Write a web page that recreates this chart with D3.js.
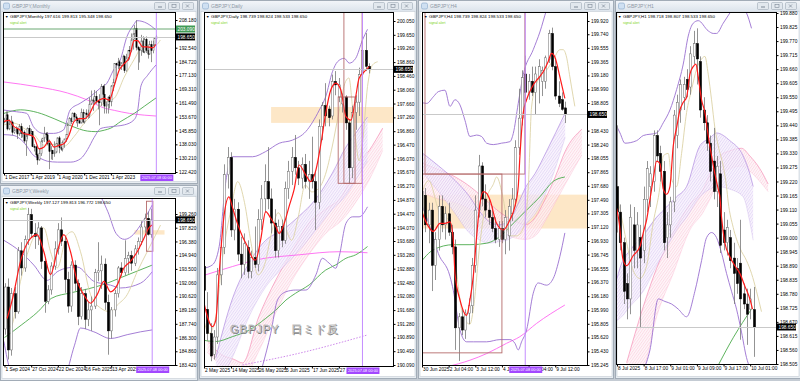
<!DOCTYPE html>
<html>
<head>
<meta charset="utf-8">
<script src="https://cdnjs.cloudflare.com/ajax/libs/d3/7.8.5/d3.min.js"></script>
<style>
  body { margin: 0; background: #c4cbd3; }
  svg { display: block; }
  text { font-family: "Liberation Sans", Arial, sans-serif; }
</style>
</head>
<body>
<svg id="chart" width="800" height="381"></svg>
<script>
// shared values
var eventLabel = "2025.07.08 00:00";
var lastPrice = 198.65;
var zoneTop = 197.56, zoneBottom = 197.1;

// ---------------- Monthly
var monthlyHeader = "GBPJPY,Monthly  197.616 199.813 195.348 198.650";
var monthlyCandles = [
  [150.6,153.0,149.9,152.2],[152.2,156.6,151.6,154.7],[154.7,156.6,145.9,146.7],[146.7,152.1,146.0,149.2],
  [149.2,154.1,149.0,150.6],[150.6,151.4,143.2,144.8],[144.8,147.3,144.0,146.0],[146.0,148.2,144.6,146.7],
  [146.7,147.6,141.0,143.9],[143.9,149.5,142.8,148.1],[148.1,149.9,141.6,144.0],[144.0,147.0,141.9,144.9],
  [144.9,145.9,138.8,139.9],[139.9,144.0,131.5,142.8],[142.8,147.6,140.9,147.0],[147.0,148.9,143.0,143.9],
  [143.9,146.6,143.7,145.2],[145.2,145.4,136.5,136.7],[136.7,138.1,134.0,136.6],[136.6,137.3,131.0,132.1],
  [132.1,132.8,126.5,129.2],[129.2,135.8,128.8,132.9],[132.9,140.9,131.5,139.8],[139.8,141.7,138.9,141.5],
  [141.5,147.9,139.3,144.0],[144.0,144.9,140.5,143.4],[143.4,145.0,137.6,138.6],[138.6,140.7,124.0,134.0],
  [134.0,137.0,129.5,134.5],[134.5,134.9,129.2,132.7],[132.7,139.7,131.0,133.6],[133.6,138.8,133.0,138.6],
  [138.6,142.0,136.4,141.7],[141.7,142.7,133.0,136.2],[136.2,137.6,134.4,135.3],[135.3,140.2,134.0,139.2],
  [139.2,141.1,136.1,141.1],[141.1,143.8,139.4,143.6],[143.6,150.3,143.4,148.6],[148.6,153.4,148.4,152.6],
  [152.6,153.5,149.4,151.0],[151.0,156.0,150.7,155.6],[155.6,156.1,151.6,153.5],[153.5,155.1,149.9,152.7],
  [152.7,152.9,147.9,151.3],[151.3,153.1,149.9,150.0],[150.0,158.2,149.9,155.9],[155.9,157.8,150.2,150.6],
  [150.6,155.9,149.7,155.7],[155.7,157.8,152.4,154.8],[154.8,157.6,152.5,154.5],[154.5,164.5,152.9,160.7],
  [160.7,168.4,160.2,163.1],[163.1,164.4,156.9,162.4],[162.4,168.7,160.6,165.0],[165.0,168.1,160.9,162.3],
  [162.3,163.0,157.7,162.0],[162.0,166.3,148.8,161.6],[161.6,172.1,159.7,170.6],[170.6,171.4,160.6,166.2],
  [166.2,172.1,155.4,159.6],[159.6,162.1,155.4,160.3],[160.3,165.0,155.4,164.7],[164.7,165.9,158.3,162.0],
  [162.0,171.5,159.5,171.0],[171.0,175.0,168.1,172.8],[172.8,183.8,172.1,183.5],[183.5,184.0,176.3,182.8],
  [182.8,186.8,180.4,184.6],[184.6,185.7,180.5,182.3],[182.3,184.4,180.0,183.9],[183.9,188.6,182.0,187.5],
  [187.5,188.3,178.3,179.6],[179.6,189.1,179.0,186.8],[186.8,191.3,185.0,191.1],[191.1,193.5,185.8,190.9],
  [190.9,200.6,190.0,197.0],[197.0,200.6,191.5,200.4],[200.4,205.3,197.5,203.4],[203.4,208.1,191.0,192.7],
  [192.7,193.6,180.0,191.6],[191.6,192.6,184.2,191.1],[191.1,199.8,188.0,196.4],[196.4,199.0,189.6,190.1],
  [190.1,198.2,189.4,197.2],[197.2,198.9,189.6,191.0],[191.0,193.2,186.4,188.9],[188.9,196.4,188.5,194.3],
  [194.3,196.5,184.4,190.9],[190.9,196.5,189.4,194.0],[194.0,198.0,192.8,197.616],[197.616,199.813,195.348,198.65]
];
var monthlyPriceTicks = [208.18,192.54,184.72,177.13,169.31,161.49,153.67,145.85,138.03,130.21,122.42];
var monthlyDateTicks = [0,16,32,48,64];
var monthlyDateLabels = ["1 Dec 2017","1 Apr 2019","1 Aug 2020","1 Dec 2021","1 Apr 2023"];
var monthlyRed = [[0,151],[3,151.5],[6,148],[9,146.5],[12,144],[15,143.5],[18,142],[21,135.5],[24,136.5],[27,140],[30,136.5],[33,137.5],[36,138.5],[39,143.5],[42,151],[45,152.5],[48,152.5],[51,155],[54,160.5],[57,163],[60,164],[63,163],[66,171],[69,180],[72,183.5],[75,187],[78,196.5],[80,196.5],[83,193],[86,193],[89,192.5],[91,194.5]];
var monthlyTan = [[0,149],[6,150],[12,147],[18,143.5],[24,137.5],[30,138],[36,137],[42,142.5],[48,150],[54,156],[60,161.5],[66,164],[72,176],[78,186],[84,194.5],[88,193.5],[91,194],[93.6,196.9]];
var monthlyUpper = [[-0.4,157.4],[7.6,156.4],[13.6,155.5],[17.6,148],[23.6,144.2],[29.6,144.2],[35.6,146.1],[39.6,157.4],[45.6,161.2],[51.6,164.9],[57.6,169.7],[61.6,172.5],[65.6,180],[69.6,185.6],[73.6,198.8],[77.6,205.4],[79.6,207.8],[85.6,206.3],[90.6,202.9]];
var monthlyLower = [[0,143.5],[6,143],[12,139],[18,131.5],[22,130],[26,128.5],[32,128],[40,128],[46,130],[50,135],[54,142],[58,147],[64,148],[72,149],[78,152],[80,157],[82,171],[86,177],[91,182.8]];
var monthlyGreen = [[0,155.5],[10,157.5],[20,156],[30,152.5],[40,148.5],[50,145.5],[55,145.2],[60,146],[64,147.2],[70,151],[78,155.5],[84,159.5],[91,164.2]];
var monthlyMagenta = [[0,173.2],[20,170.5],[38,167],[50,163],[60,158.5],[66,157.2],[75,155.5],[84,154.5],[91,154]];
var monthlyLevel = 203.1, monthlyLevelLabel = "203.090";

// ---------------- Weekly
var weeklyHeader = "GBPJPY,Weekly  197.127 199.813 196.772 198.650";
var weeklyCandles = [
  [187.2,192.0,186.6,191.6],[191.6,192.5,184.0,185.0],[185.0,191.5,184.4,190.9],[190.9,191.6,188.3,189.0],
  [189.0,195.8,188.8,195.4],[195.4,196.3,192.8,193.6],[193.6,197.0,193.2,196.6],[196.6,199.9,196.0,199.2],
  [199.2,199.8,196.8,197.2],[197.2,198.3,195.6,196.9],[196.9,198.4,196.0,197.8],[197.8,198.0,193.5,194.3],
  [194.3,194.6,188.9,190.1],[190.1,191.8,189.8,191.3],[191.3,194.2,190.8,193.8],[193.8,196.4,193.4,195.6],
  [195.6,198.3,195.0,197.6],[197.6,198.9,195.9,196.4],[196.4,197.0,191.0,192.4],[192.4,193.2,188.9,189.6],
  [189.6,194.3,189.0,193.9],[193.9,194.4,191.2,192.0],[192.0,192.4,187.6,188.5],[188.5,191.6,188.2,190.9],
  [190.9,191.4,187.2,188.2],[188.2,190.0,187.5,189.2],[189.2,190.6,187.0,189.6],[189.6,193.5,189.3,193.1],
  [193.1,196.3,192.2,193.3],[193.3,194.9,191.4,194.0],[194.0,194.6,189.2,190.0],[190.0,190.8,184.5,187.0],
  [187.0,189.5,186.2,189.2],[189.2,191.3,188.5,190.9],[190.9,193.8,190.5,193.6],[193.6,194.2,192.7,193.1],
  [193.1,196.5,192.8,194.6],[194.6,195.3,193.0,194.9],[194.9,195.4,193.3,194.1],[194.1,196.0,193.8,195.6],
  [195.6,196.8,195.0,196.4],[196.4,198.5,196.0,197.9],[197.9,199.3,197.3,198.8],[198.8,199.5,197.0,197.127],
  [197.127,199.813,196.772,198.65]
];
var weeklyPriceTicks = [199.26,197.82,196.38,194.94,193.5,192.06,190.62,189.18,187.74,186.3,184.86,183.42];
var weeklyDateTicks = [0,8,16,24,32];
var weeklyDateLabels = ["1 Sep 2024","27 Oct 2024","22 Dec 2024","16 Feb 2025","13 Apr 2025"];
var weeklyRed = [[0.8,188.3],[2.5,190.5],[4.8,194.3],[7.8,196.7],[9.8,197.1],[11.8,195.3],[13.8,192.9],[15.8,195.3],[17.8,197.1],[19.8,195.3],[21.8,192.2],[23.8,190.8],[25.8,189.9],[27.8,190.8],[29.8,192.2],[31.8,191.1],[33.8,191.8],[35.8,193.6],[37.8,194.3],[39.8,195.3],[41.8,196.7],[43.3,197.8],[44.3,198.1]];
var weeklyTan = [[-0.2,189.5],[1.8,187.4],[4.8,192.2],[6.8,195.0],[9.8,197.4],[11.8,197.8],[13.8,195.3],[15.8,193.6],[18.8,197.1],[20.3,197.4],[22.8,195.3],[25.8,190.8],[28.8,189.4],[31.8,189.0],[33.8,189.7],[36.8,190.8],[39.8,193.2],[42.8,195.3],[46.8,198.1]];
var weeklyUpper = [[0,201.5],[10,203.5],[20,203],[28,201.5],[31,199.5],[33.5,197.2],[36,196.6],[38,196.9],[40.8,198.1],[44.3,200.2]];
var weeklyInner = [[-0.2,196.5],[4.8,195.3],[8.8,193.9],[12.8,192.3],[15.8,193.2],[18.8,193.6],[21.8,193.7],[26.8,192.2],[31.8,191.8],[34.8,191.5],[40.8,192.0],[44.3,193.2]];
var weeklyLower = [[-0.2,185.9],[1.8,182.7],[6,180.5],[12,180],[18,182],[21,185.5],[22.8,187.3],[26.8,186.9],[31.8,186.2],[36.8,186.6],[40.8,186.9],[44.3,187.1]];
var weeklyGreen = [[0,186.3],[5,187.6],[10,189.0],[14,190.4],[20,191.0],[25,191.4],[30,191.9],[35,192.6],[40,193.3],[44.3,193.9]];

// ---------------- Daily
var dailyHeader = "GBPJPY,Daily  198.739 198.824 198.533 198.650";
var dailyCandles = [
  [192.95,193.75,192.15,192.25],[191.7,192.2,190.8,191.0],[191.0,191.3,190.2,190.35],[190.4,191.1,190.25,190.9],
  [190.9,192.9,190.7,192.7],[192.7,193.7,192.4,193.5],[193.5,195.9,193.3,195.6],[195.6,196.4,195.2,196.1],
  [196.1,196.25,193.8,194.0],[194.0,194.9,193.7,194.6],[194.6,194.8,193.1,193.3],[193.3,193.8,192.6,193.0],
  [193.0,193.9,192.7,193.6],[193.5,193.7,192.6,192.8],[192.8,193.4,192.6,193.2],[193.2,194.1,192.9,193.0],
  [193.0,194.6,192.8,194.3],[194.3,195.3,194.0,194.9],[194.9,195.9,194.5,195.4],[195.4,196.4,194.6,194.9],
  [194.9,195.2,193.9,194.2],[194.2,194.6,193.2,193.4],[193.4,194.3,193.2,194.1],[194.1,194.3,193.5,193.7],
  [193.7,195.4,193.6,195.2],[195.2,196.0,194.9,195.7],[195.7,196.4,195.3,196.1],[196.1,196.75,195.6,195.8],
  [195.8,196.0,195.3,195.5],[195.5,196.1,195.2,195.9],[195.9,196.2,195.2,195.4],[195.4,196.0,194.9,195.6],
  [195.6,196.7,195.2,195.4],[195.4,195.7,194.0,194.8],[194.8,197.2,194.6,197.0],[197.0,197.7,196.6,197.6],
  [197.6,198.25,197.0,197.3],[197.5,197.6,197.0,197.25],[197.3,198.5,197.2,198.3],[198.3,198.6,197.9,198.2],
  [197.85,198.4,197.7,198.2],[197.65,197.95,197.4,197.85],[197.85,197.9,196.9,197.1],[197.1,197.2,195.35,195.8],
  [195.8,197.6,195.5,197.4],[197.4,197.9,196.9,197.7],[197.7,198.7,197.3,198.5],[198.5,199.85,198.3,199.2],
  [199.2,199.7,198.6,198.74],[198.739,198.824,198.533,198.65]
];
var dailyPriceTicks = [200.05,199.65,199.26,198.86,198.46,198.06,197.66,197.26,196.86,196.47,196.07,195.67,195.27,194.87,194.47,194.07,193.68,193.28,192.88,192.48,192.08,191.68,191.28,190.89,190.49,190.09];
var dailyDateTicks = [0,8,16,24,32,40];
var dailyDateLabels = ["2 May 2025","14 May 2025","26 May 2025","5 Jun 2025","17 Jun 2025","27 Jun 2025"];
var dailyRed = [[0,191.88],[2.5,191.2],[3.5,191.39],[4.5,192.75],[5.9,194.38],[7.4,194.96],[8.4,194.67],[9.9,194.19],[11.4,193.81],[12.9,193.52],[14.4,193.18],[15.3,193.13],[16.8,193.71],[18.3,194.53],[19.8,194.34],[21.3,194.1],[22.3,193.9],[23.8,194.19],[25.2,194.67],[26.7,195.16],[28.2,195.88],[30.2,195.59],[31.7,195.4],[33.2,195.74],[34.7,196.51],[36.1,197.38],[37.6,198.05],[39.1,198.25],[40.6,198.05],[42.1,197.28],[43.6,197.18],[45,197.86],[46,198.39],[47.5,198.58],[49,198.73]];
var dailyTan = [[-0.5,191.6],[1.5,191.0],[3.5,191.5],[5.5,193.2],[8,194.6],[10,195.4],[12,194.8],[14,193.6],[16,192.7],[18,193.0],[20,193.9],[22,194.5],[24,194.1],[26,193.7],[28,194.4],[30,195.3],[32,195.1],[34,195.2],[36,195.6],[38,196.4],[40,197.4],[42,198.3],[43,198.4],[44,197.6],[45,196.6],[46,196.0],[47,196.5],[48.5,198.15],[50,198.78],[51.5,198.87]];
var dailyUpper = [[-0.2,192.89],[2.5,192.99],[4.5,193.52],[6.4,195.35],[8.4,196.12],[14.4,196.12],[18.3,196.27],[22.3,196.51],[26.2,196.6],[30.2,196.85],[34.2,197.47],[36.1,197.86],[38.1,198.58],[39.6,198.87],[41.6,198.97],[43.1,198.83],[45,198.97],[47,199.5],[48.5,199.81]];
var dailyLower = [[16.3,189.7],[17.3,190.04],[19.8,191.01],[21.8,191.97],[24.3,192.21],[27.2,192.26],[30.2,192.26],[33.2,192.7],[35.1,193.18],[37.1,193.04],[39.1,192.89],[40.1,193.23],[42.1,194.19],[44.1,194.38],[46,194.38],[48.5,194.67]];
var dailyGreen = [[-0.5,190.81],[3.5,190.77],[8.4,190.91],[13.4,191.1],[18.3,191.44],[21.3,191.68],[24.3,191.97],[27.2,192.17],[31.2,192.41],[36.1,192.84],[39.1,192.99],[42.1,193.18],[45,193.28],[48.5,193.52]];
var dailyMagenta = [[-0.5,192.67],[8.4,192.94],[15.3,193.13],[28.2,193.28],[40.1,193.37],[48.5,193.34]];
var dailyDotted = [[11.4,190.09],[28.2,190.43],[48.5,190.96]];
var dailyRibbonPurple = [[3.5,190.3,189.4],[8.4,192.0,190.3],[13.4,193.05,191.5],[18.3,193.7,192.35],[23.3,194.0,192.9],[28.2,194.4,193.4],[33.2,194.9,194.0],[38.1,195.65,194.6],[42.1,196.4,195.0],[45,196.8,195.45],[48.5,197.27,196.0]];
var dailyRibbonPink = [[1,190.8,190.45],[5,190.4,190.1],[9,190.25,189.9],[11.4,190.15,189.7],[16.3,191.5,190.5],[21.3,192.55,191.6],[26.2,193.4,192.55],[31.2,194.2,193.3],[36.1,194.6,193.9],[41.1,195.0,194.3],[45,195.8,194.8],[49,196.3,195.45],[53,196.95,196.3]];
var dailyBoxes = [[39.8,44.8,197.85,195.35],[41.5,46.9,200.6,195.35]];

// ---------------- H4
var h4Header = "GBPJPY,H4  198.739 198.824 198.533 198.650";
var h4Candles = [
  [197.35,197.8,197.2,197.6],[197.55,197.65,197.05,197.15],[197.15,197.45,196.9,197.35],[197.35,197.45,196.25,196.6],
  [196.6,197.05,196.4,196.95],[196.95,197.55,196.8,197.4],[197.4,197.55,197.05,197.15],[197.15,197.4,196.95,197.3],
  [197.3,197.45,197.0,197.05],[197.05,197.15,196.75,196.85],[196.85,196.95,195.45,195.75],[195.75,195.95,195.3,195.9],
  [195.9,196.0,195.65,195.72],[195.72,196.0,195.6,195.95],[195.95,196.15,195.8,196.05],[196.05,196.7,195.95,196.6],
  [196.6,197.55,196.5,197.35],[197.35,198.1,197.25,197.95],[197.95,198.0,197.4,197.5],[197.5,197.7,197.25,197.35],
  [197.35,197.5,197.15,197.25],[197.25,197.4,197.05,197.1],[197.1,197.25,196.9,196.95],[196.95,197.2,196.85,197.1],
  [197.1,197.2,196.9,196.95],[196.95,197.35,196.75,197.25],[197.0,197.5,196.8,197.4],[197.3,197.65,197.2,197.5],
  [197.5,198.3,197.4,198.2],[198.2,199.0,198.1,198.6],[198.6,199.25,198.5,199.15],[199.2,199.45,198.8,198.95],
  [198.95,199.2,198.85,199.1],[199.1,199.3,198.9,198.95],[198.95,199.3,198.65,199.2],[199.15,199.4,198.8,199.3],
  [199.1,199.3,198.9,199.25],[199.1,199.45,199.0,199.42],[199.4,199.8,199.35,199.75],[199.75,199.83,199.25,199.3],
  [199.3,199.4,198.85,198.9],[198.9,199.1,198.75,198.8],[198.85,198.95,198.7,198.72],[198.739,198.824,198.533,198.65]
];
var h4PriceTicks = [199.92,199.74,199.555,199.365,199.18,198.99,198.805,198.43,198.24,198.055,197.865,197.68,197.49,197.305,197.12,196.93,196.745,196.555,196.37,196.18,195.99,195.805,195.62,195.43,195.245];
var h4DateTicks = [0,8,16,24,32,40];
var h4DateLabels = ["30 Jun 2025","2 Jul 04:00","3 Jul 12:00","4 Jul 20:00","8 Jul 04:00","9 Jul 12:00"];
var h4Red = [[-0.6,197.4],[1.4,197.17],[3.4,197.06],[5.4,197.17],[6.9,197.17],[8.4,197.19],[9.4,196.94],[9.9,196.49],[11.4,196.13],[13.4,195.92],[14.4,196.13],[15.4,196.45],[16.4,196.99],[17.4,197.44],[18.4,197.6],[19.4,197.58],[20.4,197.49],[22.4,197.17],[24.4,197.08],[26.4,197.22],[27.9,197.4],[28.9,197.67],[29.4,198.08],[30.4,198.67],[31.4,198.85],[33.4,199.05],[34.9,199.14],[36.4,199.23],[37.9,199.37],[38.9,199.48],[39.9,199.43],[41.4,199.16],[42.9,198.87]];
var h4Tan = [[-0.6,197.5],[2,197.75],[5.4,197.3],[8.4,197.2],[9.4,196.9],[10.4,196.5],[12.4,195.9],[14.4,195.8],[15.4,196.0],[17.4,196.9],[19.4,197.5],[21.4,197.7],[22.4,197.8],[24.4,197.5],[26.4,197.0],[28.4,197.0],[30.4,197.1],[31.9,197.65],[32.9,198.75],[34.4,199.07],[37.4,199.25],[39.4,199.39],[41.4,199.53],[42.4,199.53],[43.4,199.43],[44.4,199.16],[45.4,198.89],[45.9,198.76]];
var h4Upper = [[-0.6,198.82],[1.4,198.8],[3.4,198.89],[4.9,198.96],[6.9,198.98],[8.4,198.76],[9.9,198.85],[11.4,198.78],[12.9,198.57],[14.4,198.35],[16.4,198.37],[17.9,198.35],[19.4,198.26],[21.4,198.24],[23.9,198.26],[26.4,198.28],[27.4,198.39],[28.9,198.8],[30.4,199.19],[33.4,199.53],[35.4,199.77],[37.4,200.07],[38.4,200.2]];
var h4Lower = [[-0.6,197.49],[2.4,197.12],[4.9,196.76],[8.4,196.45],[9.4,196.26],[11.4,195.72],[13.4,195.56],[15.4,195.56],[19.4,195.56],[23.4,195.59],[26.4,195.59],[27.9,195.54],[28.9,195.45],[29.9,195.56],[31.4,195.72],[33.4,196.22],[34.9,196.36],[37.4,196.33],[39.4,196.42],[41.4,196.72],[42.9,197.04]];
var h4Green = [[-0.6,196.63],[3.4,196.81],[9.4,196.88],[14.4,196.88],[19.4,196.9],[23.4,196.99],[27.4,197.17],[31.4,197.35],[35.4,197.53],[39.4,197.74],[42.9,197.8]];
var h4Magenta = [[7.4,195.22],[14.4,195.31],[19.4,195.4],[25.4,195.54],[29.4,195.63],[34.4,195.81],[42.9,196.06]];
var h4RibbonPurple = [[-0.6,198.15,197.9],[5,197.95,197.6],[10,197.75,197.3],[14,197.55,197.05],[17,197.35,196.95],[20,197.2,196.9],[23,197.15,196.92],[26,197.2,196.95],[29,197.45,197.05],[31,197.65,197.15],[34,197.85,197.3],[37.4,198.15,197.6],[43,198.67,198.34]];
var h4RibbonPink = [[-0.6,198.0,197.6],[5,197.9,197.5],[10,197.8,197.45],[15,197.65,197.35],[20,197.45,197.2],[24,197.3,197.05],[28,197.2,196.97],[31,197.15,196.95],[34,197.25,197.0],[37,197.5,197.2],[40,197.8,197.45],[43,198.15,197.7],[48,198.45,198.1]];
var h4Boxes = [[0.9,30.9,200.2,197.84],[-0.5,24,197.84,195.41]];

// ---------------- H1
var h1Header = "GBPJPY,H1  198.718 198.807 198.533 198.650";
var h1Candles = [
  [199.2,199.44,199.02,199.1],[199.1,199.13,198.95,198.98],[198.98,199.0,198.74,198.79],[198.82,198.86,198.68,198.76],
  [198.76,199.13,198.7,199.08],[199.05,199.12,198.88,198.95],[198.95,199.1,198.88,199.05],[199.0,199.05,198.65,198.92],
  [198.95,199.2,198.9,199.15],[199.15,199.3,199.1,199.27],[199.2,199.28,199.12,199.25],[199.22,199.42,199.18,199.4],
  [199.4,199.42,199.3,199.32],[199.33,199.36,199.22,199.26],[199.26,199.3,198.95,198.98],[199.0,199.1,198.92,199.05],
  [199.05,199.16,199.0,199.14],[199.14,199.5,199.1,199.48],[199.4,199.56,199.35,199.53],[199.5,199.62,199.45,199.6],
  [199.55,199.63,199.5,199.6],[199.62,199.66,199.55,199.58],[199.59,199.75,199.56,199.72],[199.71,199.81,199.68,199.76],
  [199.76,199.82,199.6,199.7],[199.69,199.71,199.47,199.5],[199.5,199.55,199.42,199.45],[199.45,199.48,199.34,199.37],
  [199.37,199.4,199.22,199.26],[199.3,199.43,199.15,199.18],[199.18,199.32,199.12,199.28],[199.25,199.3,198.94,198.97],
  [199.03,199.1,198.95,198.98],[198.98,199.07,198.93,199.04],[199.0,199.03,198.88,198.91],[198.92,198.98,198.74,198.86],
  [198.88,198.92,198.78,198.82],[198.9,199.07,198.6,198.76],[198.78,198.82,198.72,198.74],[198.74,198.8,198.58,198.7],
  [198.72,198.8,198.68,198.76],[198.718,198.807,198.533,198.65]
];
var h1PriceTicks = [199.88,199.825,199.77,199.715,199.66,199.605,199.55,199.495,199.44,199.385,199.33,199.275,199.22,199.165,199.11,199.055,199.0,198.945,198.89,198.835,198.78,198.725,198.67,198.615,198.56,198.505];
var h1DateTicks = [0,8,16,24,32,40];
var h1DateLabels = ["8 Jul 2025","8 Jul 17:00","9 Jul 01:00","9 Jul 09:00","9 Jul 17:00","10 Jul 01:00"];
var h1Red = [[-0.6,199.135],[0.9,199.03],[1.4,198.95],[1.9,198.91],[2.9,198.89],[4.9,198.93],[6.9,198.965],[7.9,199.02],[8.9,199.07],[9.9,199.15],[10.9,199.23],[11.9,199.3],[12.9,199.29],[13.9,199.19],[14.9,199.17],[15.9,199.2],[16.9,199.36],[17.9,199.43],[18.9,199.5],[19.9,199.53],[20.9,199.55],[21.9,199.64],[22.9,199.67],[23.7,199.68],[24.4,199.63],[25.4,199.54],[26.4,199.49],[27.4,199.4],[28.4,199.32],[29.4,199.25],[30.4,199.19],[30.9,199.16],[31.4,199.08],[32.4,198.98],[33.9,198.925],[35.4,198.89],[36.9,198.86],[38.4,198.81],[39.9,198.76],[40.7,198.72]];
var h1Tan = [[-0.6,199.19],[0.9,199.11],[2.9,198.98],[4.9,198.87],[6.9,198.84],[8.9,198.89],[10.9,199.06],[12.9,199.2],[13.9,199.32],[15.4,199.33],[16.4,199.23],[17.9,199.2],[19.4,199.33],[20.9,199.49],[22.4,199.58],[23.9,199.66],[25.4,199.7],[26.4,199.71],[27.4,199.64],[28.4,199.54],[29.4,199.43],[30.4,199.36],[31.9,199.28],[32.9,199.2],[33.4,199.14],[34.9,199.04],[36.9,198.96],[38.9,198.91],[40.4,198.86],[41.9,198.79],[43.4,198.71]];
var h1Upper = [[-0.6,199.45],[0.9,199.41],[2.4,199.37],[5.9,199.38],[7.9,199.4],[11.9,199.41],[13.9,199.45],[15.9,199.5],[17.9,199.58],[19.9,199.68],[21.4,199.79],[22.9,199.84],[24.4,199.85],[27.4,199.81],[28.9,199.8],[29.9,199.8],[31.9,199.84],[33.9,199.88],[36,199.92],[38.9,199.88],[40.4,199.82]];
var h1Lower = [[7.9,198.48],[9.9,198.56],[12.4,198.76],[14.4,198.75],[16.4,198.74],[18.4,198.72],[20.9,198.69],[23.4,198.79],[25.4,198.91],[26.9,199.0],[28.4,199.02],[29.9,199.0],[31.4,198.94],[32.9,198.86],[34.4,198.79],[35.9,198.72],[37.4,198.63],[38.9,198.53],[39.9,198.49]];
var h1Green = [[30.4,198.5],[35,198.61],[40.4,198.72]];
var h1RibbonPurple = [[-0.6,198.81,198.67],[1.4,198.9,198.69],[3.9,198.95,198.73],[7.9,199.01,198.79],[11.9,199.08,198.89],[14.9,199.12,198.96],[17.9,199.16,199.03],[20.9,199.2,199.08],[24.9,199.36,199.16],[27.9,199.39,199.19],[29.9,199.41,199.2],[33.9,199.38,199.19],[37.9,199.32,199.16],[39.9,199.25,199.06],[40.9,199.2,198.99]];
var h1RibbonPink = [[2.9,198.51,198.4],[7.9,198.73,198.48],[11.9,198.88,198.69],[16.9,199.02,198.86],[21.9,199.13,199.03],[25.9,199.19,199.1],[27.9,199.25,199.15],[30.9,199.32,199.24],[33.9,199.34,199.27],[37.4,199.35,199.28],[39.9,199.32,199.26],[42.9,199.27,199.22],[45.4,199.21,199.18]];

// colours
var RED = "#ff1a1a", TAN = "#ddd3a6", PURPLE = "#9a6fd0", GREEN = "#4caa4c", MAGENTA = "#ff66f0";

var panels = [
  { id: "m", title: "GBPJPY,Monthly", header: monthlyHeader,
    win: {x: 0, y: 0, w: 198, h: 184}, plot: {x0: 3, y0: 12, x1: 175, y1: 173},
    xDomain: [0, 91], xRange: [4, 156], yDomain: [122.42, 208.18], yRange: [172, 20], bodyW: 1.2,
    candles: monthlyCandles, priceTicks: monthlyPriceTicks, dateTicks: monthlyDateTicks, dateLabels: monthlyDateLabels,
    ribbons: [], zones: [], boxes: [],
    lines: [{d: monthlyMagenta, c: MAGENTA}, {d: monthlyGreen, c: GREEN}, {d: monthlyUpper, c: PURPLE}, {d: monthlyLower, c: PURPLE}, {d: monthlyTan, c: TAN}],
    red: monthlyRed, vline: 91.2, level: {p: monthlyLevel, label: monthlyLevelLabel} },
  { id: "w", title: "GBPJPY,Weekly", header: weeklyHeader,
    win: {x: 0, y: 185, w: 198, h: 196}, plot: {x0: 3, y0: 198, x1: 175, y1: 365},
    xDomain: [0, 44], xRange: [4.5, 151.2], yDomain: [183.42, 199.26], yRange: [365, 214], bodyW: 2.2,
    candles: weeklyCandles, priceTicks: weeklyPriceTicks, dateTicks: weeklyDateTicks, dateLabels: weeklyDateLabels,
    ribbons: [], zones: [[39, 48, zoneTop, zoneBottom]], boxes: [[42.6, 44.5, 200.6, 195.35]],
    lines: [{d: weeklyGreen, c: GREEN}, {d: weeklyUpper, c: PURPLE}, {d: weeklyInner, c: PURPLE}, {d: weeklyLower, c: PURPLE}, {d: weeklyTan, c: TAN}],
    red: weeklyRed, vline: 44.3 },
  { id: "d", title: "GBPJPY,Daily", header: dailyHeader,
    win: {x: 199, y: 0, w: 218, h: 379}, plot: {x0: 204, y0: 12, x1: 393, y1: 366},
    xDomain: [0, 49], xRange: [204, 369.2], yDomain: [190.09, 200.05], yRange: [365, 21], bodyW: 2.2,
    candles: dailyCandles, priceTicks: dailyPriceTicks, dateTicks: dailyDateTicks, dateLabels: dailyDateLabels,
    ribbons: [{d: dailyRibbonPink, fill: "url(#hatchPink)", c: "#f58fb6"}, {d: dailyRibbonPurple, fill: "url(#hatchPurple)", c: "#b08ddf"}],
    zones: [[19.9, 60, zoneTop, zoneBottom]], boxes: dailyBoxes,
    lines: [{d: dailyMagenta, c: MAGENTA}, {d: dailyGreen, c: GREEN}, {d: dailyDotted, c: "#c77ce8", dash: "1.5,1.5"}, {d: dailyUpper, c: PURPLE}, {d: dailyLower, c: PURPLE}, {d: dailyTan, c: TAN}],
    red: dailyRed, vline: 47, watermark: true },
  { id: "h4", title: "GBPJPY,H4", header: h4Header,
    win: {x: 418, y: 0, w: 196, h: 379}, plot: {x0: 422, y0: 12, x1: 587, y1: 365},
    xDomain: [0, 43], xRange: [422, 565.2], yDomain: [195.245, 199.92], yRange: [365, 21], bodyW: 2.2,
    candles: h4Candles, priceTicks: h4PriceTicks, dateTicks: h4DateTicks, dateLabels: h4DateLabels,
    ribbons: [{d: h4RibbonPink, fill: "url(#hatchPink)", c: "#f58fb6"}, {d: h4RibbonPurple, fill: "url(#hatchPurple)", c: "#b08ddf"}],
    zones: [[-2, 60, zoneTop, zoneBottom]], boxes: h4Boxes,
    lines: [{d: h4Magenta, c: MAGENTA}, {d: h4Green, c: GREEN}, {d: h4Upper, c: PURPLE}, {d: h4Lower, c: PURPLE}, {d: h4Tan, c: TAN}],
    red: h4Red, vline: 31 },
  { id: "h1", title: "GBPJPY,H1", header: h1Header,
    win: {x: 615, y: 0, w: 186, h: 379}, plot: {x0: 616, y0: 12, x1: 776, y1: 364},
    xDomain: [0, 41], xRange: [617, 753.5], yDomain: [198.505, 199.88], yRange: [364, 13], bodyW: 2.2,
    candles: h1Candles, priceTicks: h1PriceTicks, dateTicks: h1DateTicks, dateLabels: h1DateLabels,
    ribbons: [{d: h1RibbonPink, fill: "url(#hatchPink)", c: "#f58fb6"}, {d: h1RibbonPurple, fill: "url(#hatchPurple)", c: "#b08ddf"}],
    zones: [], boxes: [],
    lines: [{d: h1Green, c: GREEN}, {d: h1Upper, c: PURPLE}, {d: h1Lower, c: PURPLE}, {d: h1Tan, c: TAN}],
    red: h1Red, vline: null }
];

var svg = d3.select("#chart");
var defs = svg.append("defs");
svg.append("rect").attr("width", 800).attr("height", 381).attr("fill", "#c4cbd3");

var grad = defs.append("linearGradient").attr("id", "titleGrad").attr("x1", 0).attr("y1", 0).attr("x2", 0).attr("y2", 1);
grad.append("stop").attr("offset", "0%").attr("stop-color", "#f2f5f9");
grad.append("stop").attr("offset", "100%").attr("stop-color", "#dce4ec");

function hatch(id, bg, fg) {
  var p = defs.append("pattern").attr("id", id).attr("patternUnits", "userSpaceOnUse")
    .attr("width", 2.2).attr("height", 2.2).attr("patternTransform", "rotate(-55)");
  p.append("rect").attr("width", 2.2).attr("height", 2.2).attr("fill", bg);
  p.append("line").attr("x1", 0).attr("y1", 0.5).attr("x2", 2.2).attr("y2", 0.5).attr("stroke", fg).attr("stroke-width", 0.45);
}
hatch("hatchPurple", "#f7f2fd", "#c5a8ec");
hatch("hatchPink", "#fef4f7", "#f7a8c6");

panels.forEach(drawPanel);

function drawPanel(c) {
  var w = c.win, p = c.plot;
  var g = svg.append("g");

  // window chrome
  g.append("rect").attr("x", w.x + 0.5).attr("y", w.y + 0.5).attr("width", w.w - 1).attr("height", w.h - 1)
    .attr("fill", "#e9eef3").attr("stroke", "#a2acb7");
  g.append("rect").attr("x", w.x + 1).attr("y", w.y + 1).attr("width", w.w - 2).attr("height", 10.5).attr("fill", "url(#titleGrad)");
  g.append("rect").attr("x", w.x + 3.5).attr("y", w.y + 3).attr("width", 6).attr("height", 6).attr("rx", 1.5)
    .attr("fill", "#cfe0f2").attr("stroke", "#86a6c8").attr("stroke-width", 0.6);
  g.append("text").attr("x", w.x + 12).attr("y", w.y + 8.4).attr("font-size", "5px").attr("fill", "#8d98a5").text(c.title);
  [44, 30, 16].forEach(function(off, k) {
    var bx = w.x + w.w - off;
    g.append("rect").attr("x", bx + 0.5).attr("y", w.y + 2.5).attr("width", 11).attr("height", 7).attr("rx", 1)
      .attr("fill", "#e2e8ee").attr("stroke", "#9ea9b5").attr("stroke-width", 0.6);
    if (k === 0) g.append("line").attr("x1", bx + 4).attr("x2", bx + 8).attr("y1", w.y + 7).attr("y2", w.y + 7).attr("stroke", "#7d8896");
    if (k === 1) g.append("rect").attr("x", bx + 4).attr("y", w.y + 4.5).attr("width", 4).attr("height", 3).attr("fill", "none").attr("stroke", "#7d8896").attr("stroke-width", 0.6);
    if (k === 2) g.append("path").attr("d", "M" + (bx + 4) + "," + (w.y + 4.5) + "l3,3m0,-3l-3,3").attr("stroke", "#7d8896").attr("stroke-width", 0.7);
  });
  g.append("rect").attr("x", w.x + 2).attr("y", w.y + 11.5).attr("width", w.w - 4).attr("height", w.h - 14)
    .attr("fill", "#fff").attr("stroke", "#b9c2cc").attr("stroke-width", 0.5);

  var x = d3.scaleLinear().domain(c.xDomain).range(c.xRange);
  var y = d3.scaleLinear().domain(c.yDomain).range(c.yRange);

  defs.append("clipPath").attr("id", "clip-" + c.id).append("rect")
    .attr("x", p.x0).attr("y", p.y0).attr("width", p.x1 - p.x0).attr("height", p.y1 - p.y0);
  var inner = g.append("g").attr("clip-path", "url(#clip-" + c.id + ")");

  // zones
  inner.selectAll(".zone").data(c.zones).enter().append("rect")
    .attr("x", function(d) { return x(d[0]); }).attr("width", function(d) { return x(d[1]) - x(d[0]); })
    .attr("y", function(d) { return y(d[2]); }).attr("height", function(d) { return y(d[3]) - y(d[2]); })
    .attr("fill", "#fde3bd").attr("opacity", 0.85);

  // ribbons
  var area = d3.area().x(function(d) { return x(d[0]); }).y0(function(d) { return y(d[2]); }).y1(function(d) { return y(d[1]); }).curve(d3.curveMonotoneX);
  var topLine = d3.line().x(function(d) { return x(d[0]); }).y(function(d) { return y(d[1]); }).curve(d3.curveMonotoneX);
  var botLine = d3.line().x(function(d) { return x(d[0]); }).y(function(d) { return y(d[2]); }).curve(d3.curveMonotoneX);
  c.ribbons.forEach(function(r) {
    inner.append("path").attr("d", area(r.d)).attr("fill", r.fill).attr("opacity", 0.75);
    inner.append("path").attr("d", topLine(r.d)).attr("fill", "none").attr("stroke", r.c).attr("stroke-width", 0.7);
    inner.append("path").attr("d", botLine(r.d)).attr("fill", "none").attr("stroke", r.c).attr("stroke-width", 0.4).attr("opacity", 0.6);
  });

  // indicator lines
  var line = d3.line().x(function(d) { return x(d[0]); }).y(function(d) { return y(d[1]); }).curve(d3.curveMonotoneX);
  c.lines.forEach(function(l) {
    inner.append("path").attr("d", line(l.d)).attr("fill", "none").attr("stroke", l.c)
      .attr("stroke-width", 0.9).attr("stroke-dasharray", l.dash || null);
  });

  // candles
  var cx = function(d, i) { return Math.round(x(i)) + 0.5; };
  inner.selectAll(".wick").data(c.candles).enter().append("line")
    .attr("x1", cx).attr("x2", cx)
    .attr("y1", function(d) { return y(d[1]); }).attr("y2", function(d) { return y(d[2]); })
    .attr("stroke", "#777").attr("stroke-width", 0.8);
  inner.selectAll(".body").data(c.candles).enter().append("rect")
    .attr("x", function(d, i) { return cx(d, i) - c.bodyW / 2; })
    .attr("y", function(d) { return y(Math.max(d[0], d[3])); })
    .attr("width", c.bodyW)
    .attr("height", function(d) { return Math.max(0.8, Math.abs(y(d[0]) - y(d[3]))); })
    .attr("fill", function(d) { return d[3] >= d[0] ? "#fff" : "#000"; })
    .attr("stroke", function(d) { return d[3] >= d[0] ? "#6a6a6a" : "#000"; })
    .attr("stroke-width", 0.5);

  // fast MA on top
  inner.append("path").attr("d", line(c.red)).attr("fill", "none").attr("stroke", RED).attr("stroke-width", 1.2);

  // boxes
  inner.selectAll(".box").data(c.boxes).enter().append("rect")
    .attr("x", function(d) { return x(d[0]); }).attr("width", function(d) { return x(d[1]) - x(d[0]); })
    .attr("y", function(d) { return y(d[2]); }).attr("height", function(d) { return y(d[3]) - y(d[2]); })
    .attr("fill", "none").attr("stroke", "#b56b6b").attr("stroke-width", 0.9);

  // current price line, level line, event line
  inner.append("line").attr("x1", p.x0).attr("x2", p.x1).attr("y1", Math.round(y(lastPrice)) + 0.5).attr("y2", Math.round(y(lastPrice)) + 0.5)
    .attr("stroke", "#c9c9c9").attr("stroke-width", 1);
  if (c.level) {
    inner.append("line").attr("x1", p.x0).attr("x2", p.x1).attr("y1", y(c.level.p)).attr("y2", y(c.level.p))
      .attr("stroke", "#5a9e63").attr("stroke-width", 0.9);
  }
  if (c.vline !== null) {
    inner.append("line").attr("x1", x(c.vline)).attr("x2", x(c.vline)).attr("y1", p.y0).attr("y2", p.y1)
      .attr("stroke", "#c48dff").attr("stroke-width", 1);
  }

  if (c.watermark) {
    var wm = "GBPJPY\u3000日ミド反";
    g.append("text").attr("x", 231).attr("y", 334).attr("font-size", "11px").attr("letter-spacing", "1px")
      .attr("font-family", "'Noto Sans CJK JP', sans-serif").attr("fill", "#7a7a7a").text(wm);
    g.append("text").attr("x", 230).attr("y", 333).attr("font-size", "11px").attr("letter-spacing", "1px")
      .attr("font-family", "'Noto Sans CJK JP', sans-serif").attr("fill", "#d9d9d9").attr("stroke", "#9a9a9a").attr("stroke-width", 0.3).text(wm);
  }

  // frame
  g.append("rect").attr("x", p.x0 + 0.5).attr("y", p.y0 + 0.5).attr("width", p.x1 - p.x0).attr("height", p.y1 - p.y0)
    .attr("fill", "none").attr("stroke", "#000").attr("stroke-width", 1);

  // header texts
  g.append("text").attr("x", p.x0 + 2).attr("y", p.y0 + 6).attr("font-size", "3.5px").attr("fill", "#000").text("\u25BC");
  g.append("text").attr("x", p.x0 + 7).attr("y", p.y0 + 6).attr("font-size", "4.4px").attr("fill", "#000").text(c.header);
  g.append("text").attr("x", p.x0 + 7).attr("y", p.y0 + 12).attr("font-size", "3.4px").attr("fill", "#7ad31c").text("signal alert");

  // price axis
  var ya = g.append("g").attr("transform", "translate(" + (p.x1 + 0.5) + ",0)")
    .call(d3.axisRight(y).tickValues(c.priceTicks).tickSize(2).tickPadding(1.5).tickFormat(d3.format(".3f")));
  ya.select(".domain").remove();
  ya.selectAll("line").attr("stroke", "#000");
  ya.selectAll("text").attr("font-size", "4.8px").attr("fill", "#000").attr("font-family", "'Liberation Sans', Arial, sans-serif");

  // time axis; the event tag hides the part of a label that runs under it
  var xa = g.append("g").attr("transform", "translate(0," + (p.y1 + 0.5) + ")")
    .call(d3.axisBottom(x).tickValues(c.dateTicks).tickSize(2).tickFormat(function(d, i) { return c.dateLabels[i]; }));
  xa.select(".domain").remove();
  xa.selectAll("line").attr("stroke", "#000");
  xa.selectAll("text").attr("font-size", "4.8px").attr("fill", "#000").attr("text-anchor", "start")
    .attr("x", 0.5).attr("y", 2.5).attr("font-family", "'Liberation Sans', Arial, sans-serif");
  if (c.vline !== null) {
    var tx = x(c.vline);
    var tc = defs.append("clipPath").attr("id", "tagclip-" + c.id);
    tc.append("rect").attr("x", w.x).attr("y", p.y1 - 5).attr("width", tx - 16 - w.x).attr("height", 20);
    tc.append("rect").attr("x", tx + 17).attr("y", p.y1 - 5).attr("width", w.x + w.w - tx - 17).attr("height", 20);
    xa.selectAll(".tick text").filter(function() {
      var b = this.getBBox();
      var left = x(this.__data__) + b.x;
      return left < tx + 17 && left + b.width > tx - 16;
    }).attr("clip-path", function() { return "url(#tagclip-" + c.id + ")"; })
      .each(function() {
        // clip is given in panel coordinates; shift it into the tick's frame
        var t = d3.select(this.parentNode).attr("transform");
        d3.select(this).attr("clip-path", null);
        var m = /translate\(([-\d.]+),([-\d.]+)\)/.exec(t);
        var dx = m ? +m[1] : 0;
        var id = "tagclip-" + c.id + "-" + Math.round(dx);
        var cp = defs.append("clipPath").attr("id", id);
        cp.append("rect").attr("x", w.x - dx).attr("y", -10).attr("width", tx - 16 - w.x).attr("height", 20);
        cp.append("rect").attr("x", tx + 17 - dx).attr("y", -10).attr("width", w.x + w.w - tx - 17).attr("height", 20);
        d3.select(this).attr("clip-path", "url(#" + id + ")");
      });
  }

  // price tags
  var ty = y(lastPrice);
  g.append("rect").attr("x", p.x1 + 1).attr("y", ty - 3.5).attr("width", 19).attr("height", 7).attr("fill", "#000");
  g.append("text").attr("x", p.x1 + 2.5).attr("y", ty + 1.8).attr("font-size", "4.8px").attr("fill", "#fff").text(d3.format(".3f")(lastPrice));
  if (c.level) {
    var ly = y(c.level.p);
    g.append("rect").attr("x", p.x1 + 1).attr("y", ly - 3.5).attr("width", 19).attr("height", 7).attr("fill", "#3f9a55");
    g.append("text").attr("x", p.x1 + 2.5).attr("y", ly + 1.8).attr("font-size", "4.8px").attr("fill", "#fff").text(c.level.label);
  }
  if (c.vline !== null) {
    var vx = x(c.vline);
    g.append("rect").attr("x", vx - 16).attr("y", p.y1 + 1.5).attr("width", 33).attr("height", 6.5).attr("fill", "#a348ff");
    g.append("text").attr("x", vx - 14.5).attr("y", p.y1 + 6.3).attr("font-size", "4.4px").attr("fill", "#fff")
      .attr("textLength", 30).attr("lengthAdjust", "spacingAndGlyphs").text(eventLabel);
  }
}
</script>
</body>
</html>
